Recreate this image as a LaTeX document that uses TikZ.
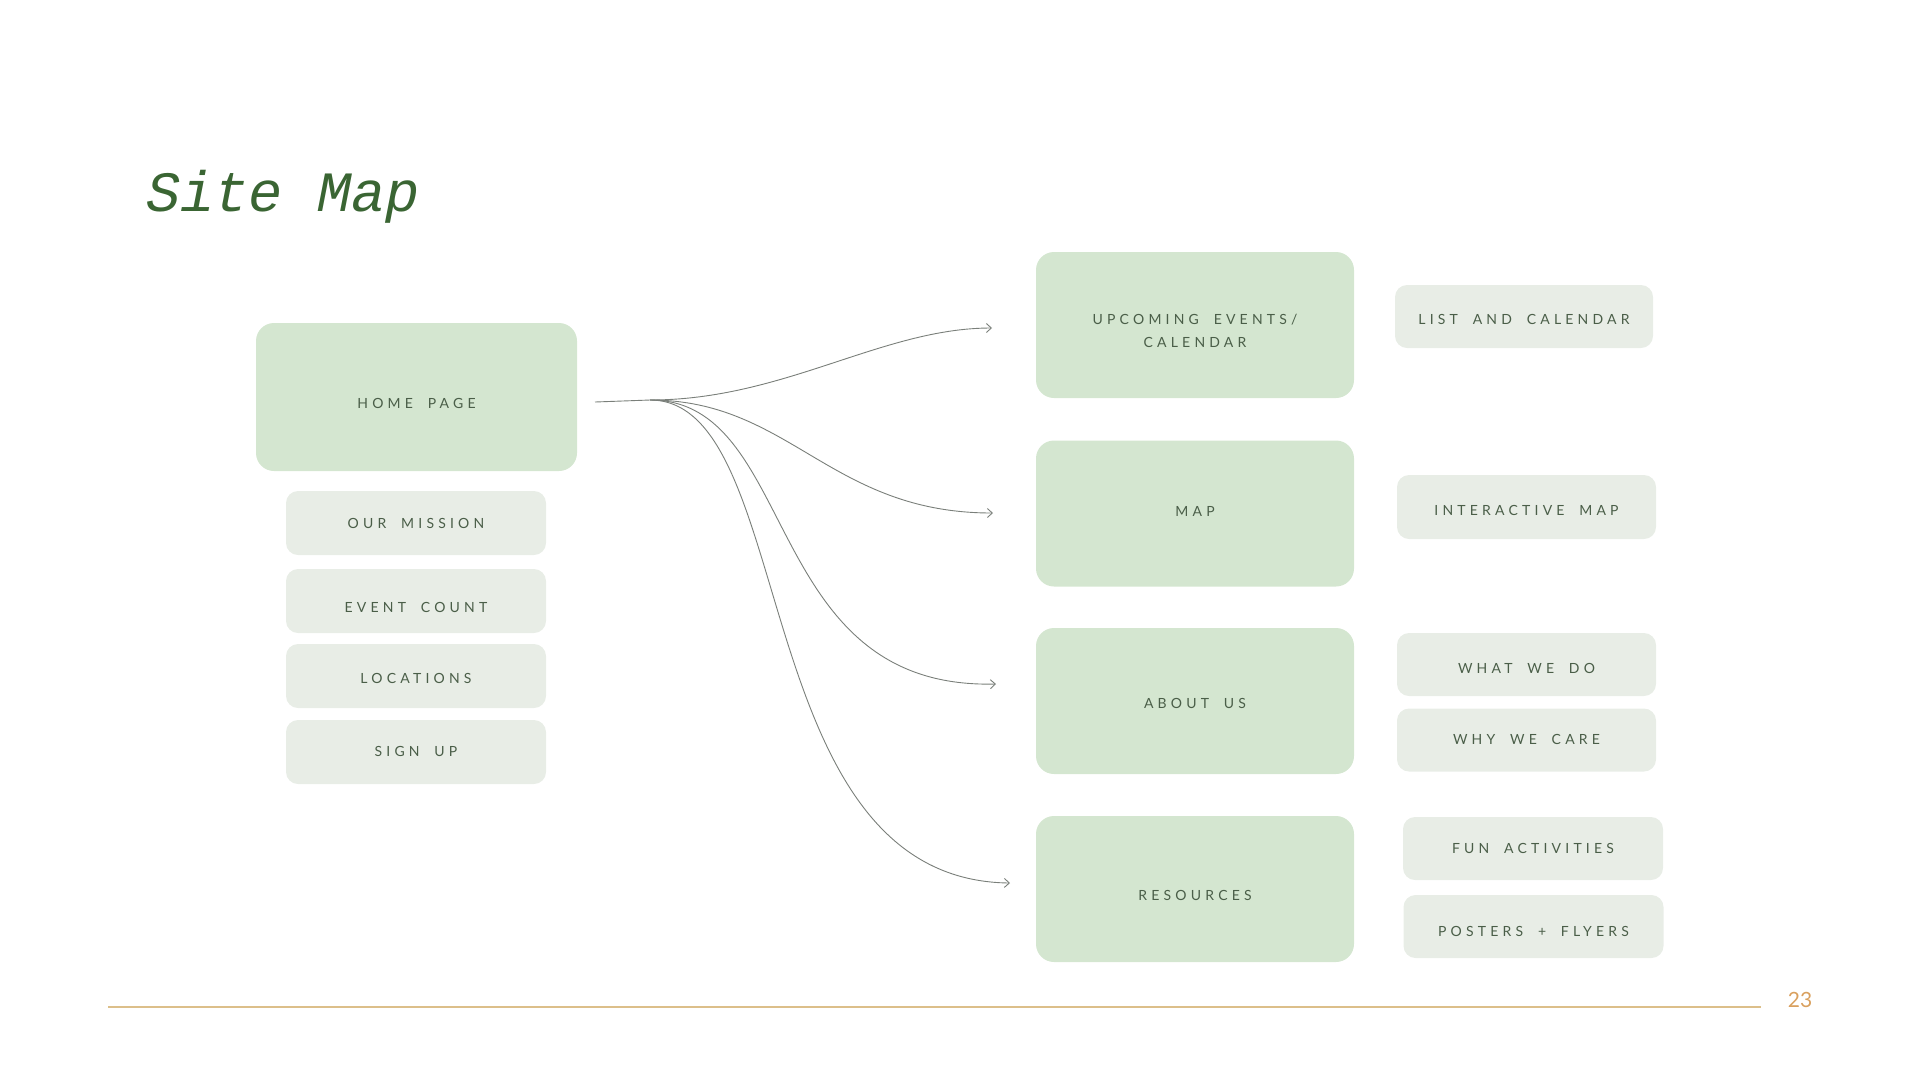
\documentclass[tikz,border=0pt]{standalone}
\usepackage{fontspec}
\setmainfont{Lato}
\newfontfamily\lblfont[LetterSpace=30,WordSpace=1.9]{Lato}
\newfontfamily\titlefont{Liberation Mono}
\usetikzlibrary{arrows.meta}
\definecolor{titlegreen}{HTML}{3A6533}
\definecolor{boxgreen}{HTML}{D4E6D0}
\definecolor{boxgrey}{HTML}{E8EDE6}
\definecolor{lbltext}{HTML}{4A5E48}
\definecolor{linegrey}{HTML}{7A7F7A}
\definecolor{rulecol}{HTML}{DCBF8A}
\definecolor{pagenum}{HTML}{D9A05E}
\tikzset{
  mainbox/.style={fill=boxgreen, rounded corners=18pt, inner sep=0pt, minimum width=318pt, minimum height=146pt},
  subbox/.style={fill=boxgrey, rounded corners=12pt, inner sep=0pt, minimum width=259pt, minimum height=63pt},
  lbl/.style={inner sep=0pt, align=center, font=\lblfont\fontsize{14}{23}\selectfont, text=lbltext},
  link/.style={draw=linegrey, line width=0.9pt},
  arr/.style={link, -{Straight Barb[length=5pt,width=9pt,line width=0.9pt]}}
}
\begin{document}
\begin{tikzpicture}[x=1pt,y=-1pt]
\useasboundingbox (0,0) rectangle (1920,1080);
% title
\node[anchor=west, text=titlegreen, font=\titlefont\itshape\fontsize{57}{60}\selectfont, inner sep=0pt] (title) at (146,197) {Site Map};
% left column
\node[mainbox, minimum width=321pt, minimum height=148pt] (home) at (416.5,397) {};
\node[subbox, minimum width=260pt, minimum height=64pt] (mission) at (416,523) {};
\node[subbox, minimum width=260pt, minimum height=64pt] (count) at (416,601) {};
\node[subbox, minimum width=260pt, minimum height=64pt] (locations) at (416,676) {};
\node[subbox, minimum width=260pt, minimum height=64pt] (signup) at (416,752) {};
\node[lbl] (homeT) at ([yshift=-6pt]home.center) {HOME PAGE};
\node[lbl] (missionT) at (mission.center) {OUR MISSION};
\node[lbl] (countT) at ([yshift=-6pt]count.center) {EVENT COUNT};
\node[lbl] (locationsT) at ([yshift=-2.5pt]locations.center) {LOCATIONS};
\node[lbl] (signupT) at ([yshift=1pt]signup.center) {SIGN UP};
% middle column
\node[mainbox] (events) at (1195,325) {};
\node[mainbox] (map) at (1195,513.5) {};
\node[mainbox] (about) at (1195,701) {};
\node[mainbox] (resources) at (1195,889) {};
\node[lbl] (eventsT) at ([yshift=-6pt]events.center) {UPCOMING EVENTS/\\CALENDAR};
\node[lbl] (mapT) at ([yshift=2.5pt]map.center) {MAP};
\node[lbl] (aboutT) at ([yshift=-2.5pt]about.center) {ABOUT US};
\node[lbl] (resourcesT) at ([yshift=-6pt]resources.center) {RESOURCES};
% right column
\node[subbox, minimum width=258pt] (list) at (1524,316.5) {};
\node[subbox, minimum height=64pt] (imap) at (1526.5,507) {};
\node[subbox] (whatdo) at (1526.5,664.5) {};
\node[subbox] (whycare) at (1526.5,740) {};
\node[subbox, minimum width=260pt] (fun) at (1533,848.5) {};
\node[subbox, minimum width=260pt] (posters) at (1533.5,926.5) {};
\node[lbl] (listT) at ([yshift=-2.5pt]list.center) {LIST AND CALENDAR};
\node[lbl] (imapT) at ([yshift=-3.5pt]imap.center) {INTERACTIVE MAP};
\node[lbl] (whatdoT) at ([yshift=-3.5pt]whatdo.center) {WHAT WE DO};
\node[lbl] (whycareT) at ([yshift=1pt]whycare.center) {WHY WE CARE};
\node[lbl] (funT) at (fun.center) {FUN ACTIVITIES};
\node[lbl] (postersT) at ([yshift=-5pt]posters.center) {POSTERS + FLYERS};
% connectors
\coordinate (S) at (595,402);
\coordinate (F) at (650,400);
\coordinate (E1) at (992,328);
\coordinate (E2) at (993,513);
\coordinate (E3) at (996,684);
\coordinate (E4) at (1010,883);
\draw[link] (S) -- (F);
\draw[arr] (F) .. controls (784,400) and (882,328) .. (E1);
\draw[arr] (F) .. controls (790,400) and (830,513) .. (E2);
\draw[arr] (F) .. controls (800,400) and (760,690) .. (E3);
\draw[arr] (F) .. controls (800,400) and (745,880) .. (E4);
% footer
\coordinate (R1) at (108,1007);
\coordinate (R2) at (1761,1007);
\draw[rulecol, line width=1.3pt] (R1) -- (R2);
\node[text=pagenum, font=\fontsize{21}{24}\selectfont, inner sep=0pt] (pnum) at (1800,1000) {23};
\end{tikzpicture}
\end{document}
